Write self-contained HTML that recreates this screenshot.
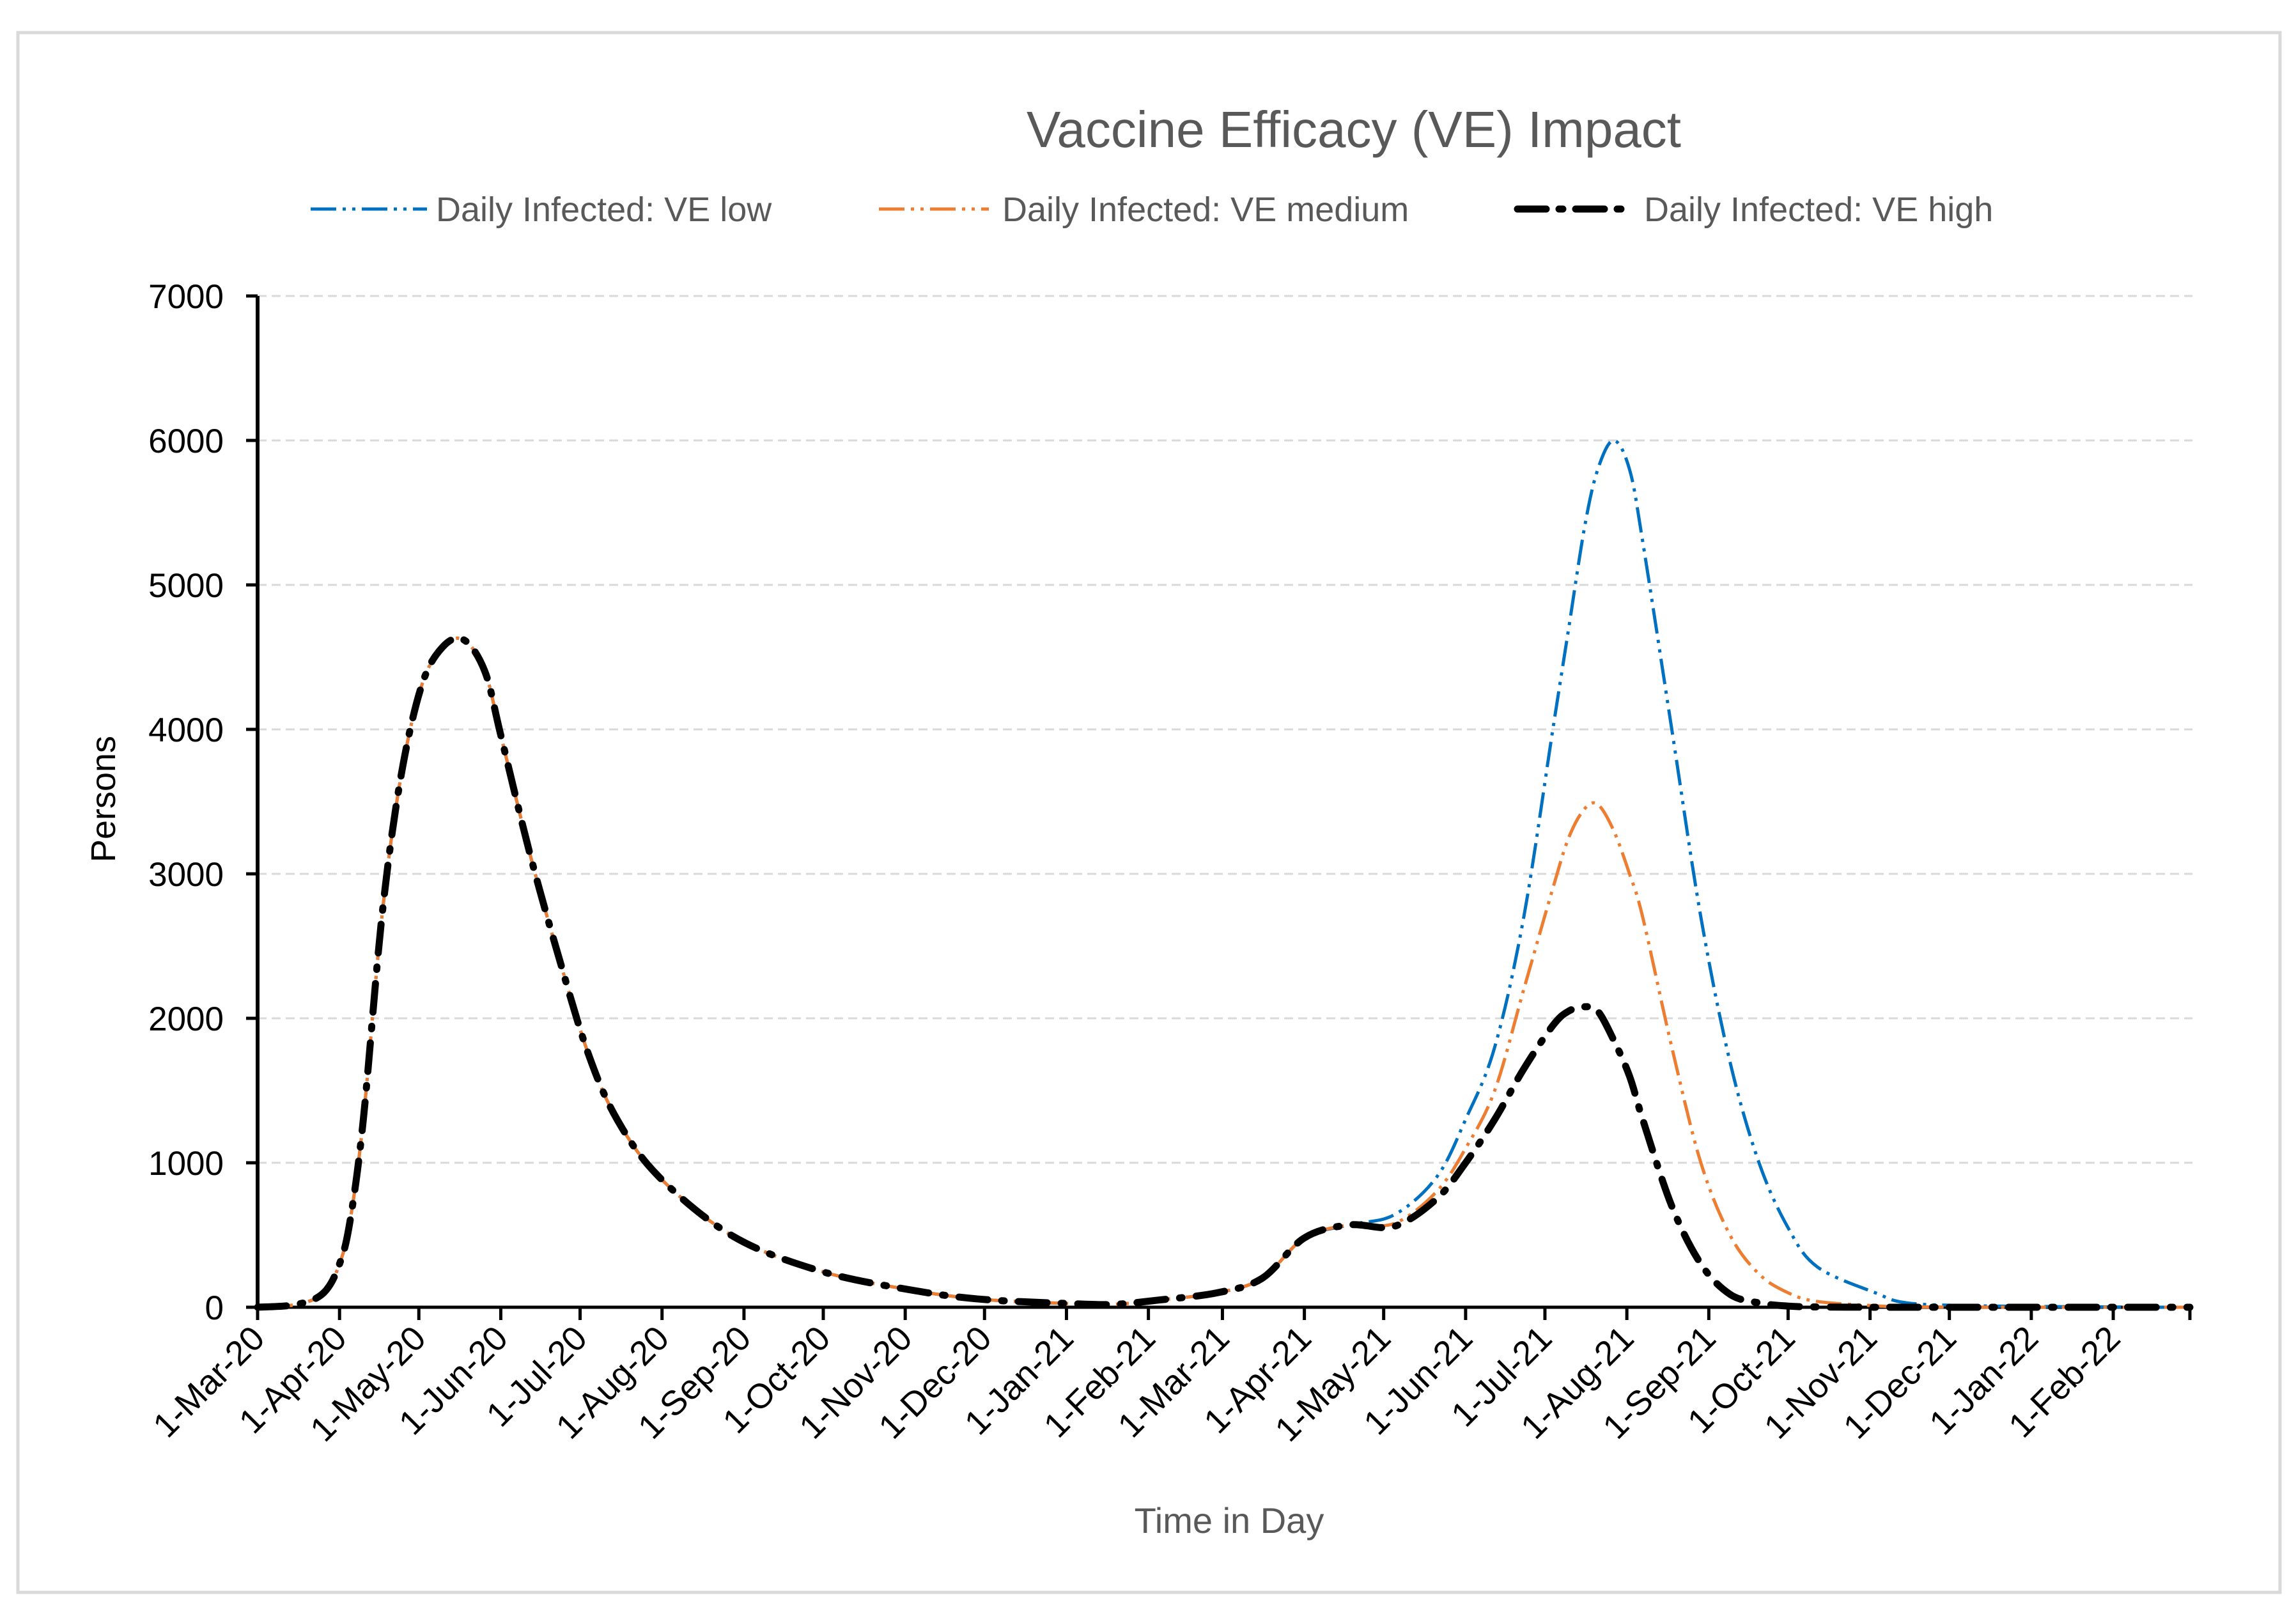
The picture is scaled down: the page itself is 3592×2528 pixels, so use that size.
<!DOCTYPE html>
<html><head><meta charset="utf-8"><style>
html,body{margin:0;padding:0;background:#fff}
svg{display:block;font-family:"Liberation Sans",sans-serif}
</style></head><body>
<svg id="chart" width="3592" height="2528" viewBox="0 0 3592 2528">
<rect x="28" y="51" width="3539" height="2440" fill="#fff" stroke="#d9d9d9" stroke-width="5"/>
<text x="2118" y="230" font-size="80" fill="#595959" text-anchor="middle">Vaccine Efficacy (VE) Impact</text>
<g>
<g>
<line x1="486" y1="327" x2="668" y2="327" stroke="#0070C0" stroke-width="5" stroke-dasharray="40 10 5 10 5 10"/>
<text x="682" y="346" font-size="54" fill="#595959">Daily Infected: VE low</text></g>
<g>
<line x1="1375" y1="327" x2="1547" y2="327" stroke="#ED7D31" stroke-width="5" stroke-dasharray="40 10 5 10 5 10"/>
<text x="1568" y="346" font-size="54" fill="#595959">Daily Infected: VE medium</text></g>
<g>
<line x1="2374" y1="327" x2="2556" y2="327" stroke="#000" stroke-width="11" stroke-dasharray="45 20 6 20" stroke-linecap="round"/>
<text x="2572" y="346" font-size="54" fill="#595959">Daily Infected: VE high</text></g>
</g>
<g id="grid"></g><g id="axes"></g><g id="series"></g>
<text x="0" y="0" transform="translate(180,1250) rotate(-90)" font-size="54" fill="#000" text-anchor="middle">Persons</text>
<text x="1923" y="2398" font-size="56" fill="#595959" text-anchor="middle">Time in Day</text>
</svg>
<script>
const yTicks=[0,1000,2000,3000,4000,5000,6000,7000];
const monthLabels=["1-Mar-20","1-Apr-20","1-May-20","1-Jun-20","1-Jul-20","1-Aug-20","1-Sep-20","1-Oct-20","1-Nov-20","1-Dec-20","1-Jan-21","1-Feb-21","1-Mar-21","1-Apr-21","1-May-21","1-Jun-21","1-Jul-21","1-Aug-21","1-Sep-21","1-Oct-21","1-Nov-21","1-Dec-21","1-Jan-22","1-Feb-22"];
const monthDays=[0,31,61,92,122,153,184,214,245,275,306,337,365,396,426,457,487,518,549,579,610,640,671,702];
const days=[0,15,25,31,35,40,47,54,62,70,78,86,92,103,114,125,136,152,180,213,247,274,308,324,341,363,380,396,413,430,446,457,468,479,490,496,502,507,513,519,524,535,546,557,568,579,590,612,624,650,700,731];
const shared=[0,20,100,300,600,1300,2700,3650,4300,4570,4620,4400,3960,3140,2420,1760,1300,900,490,250,120,55,25,20,50,100,200,480,570];
const veLow=shared.concat([640,900,1300,1800,2700,4000,4700,5400,5800,6000,5800,5300,4000,2700,1700,1000,550,280,100,30,10,2,0]);
const veMed=shared.concat([580,800,1100,1500,2200,2900,3250,3450,3480,3300,3000,2700,1800,1000,500,230,100,40,10,3,1,0,0]);
const veHigh=shared.concat([560,750,1000,1300,1650,1950,2050,2080,2050,1850,1600,1300,700,300,90,30,8,2,0,0,0,0,0]);
const X0=403,X1=3426,Y0=2045,Y1=463,DMAX=731,VMAX=7000;
const xs=d=>X0+(X1-X0)*d/DMAX, ys=v=>Y0-(Y0-Y1)*v/VMAX;
const NS="http://www.w3.org/2000/svg";
const mk=(t,a,p)=>{const e=document.createElementNS(NS,t);for(const k in a)e.setAttribute(k,a[k]);p.appendChild(e);return e;};
const grid=document.getElementById('grid'),axes=document.getElementById('axes'),series=document.getElementById('series');
yTicks.forEach(v=>{
 if(v>0){const g=mk('line',{x1:X0,x2:3430,y1:ys(v),y2:ys(v),stroke:'#d9d9d9','stroke-width':3,'stroke-dasharray':'14 8'},grid);
 
 }
 const t=mk('text',{x:350,y:ys(v)+19,'font-size':53,'text-anchor':'end',fill:'#000'},axes);t.textContent=v;
 
 
 const tk=mk('line',{x1:X0-18,x2:X0,y1:ys(v),y2:ys(v),stroke:'#000','stroke-width':5},axes);
 
 
});
const ya=mk('line',{x1:X0,x2:X0,y1:Y1,y2:Y0+2,stroke:'#000','stroke-width':6},axes);


const xa=mk('line',{x1:X0,x2:X1,y1:Y0,y2:Y0,stroke:'#000','stroke-width':5},axes);


monthDays.concat([DMAX]).forEach(d=>{const tk=mk('line',{x1:xs(d),x2:xs(d),y1:Y0,y2:Y0+20,stroke:'#000','stroke-width':5},axes);
 
 });
monthLabels.forEach((l,i)=>{const x=xs(monthDays[i])+14,y=Y0+52;
 const t=mk('text',{x:x,y:y,'font-size':54,'text-anchor':'end',fill:'#000',transform:`rotate(-45 ${x} ${y})`},axes);t.textContent=l;
 
 });
function pathD(vals){const p=days.map((d,i)=>[xs(d),ys(vals[i])]);let s=`M${p[0][0]},${p[0][1]}`;
 for(let i=0;i<p.length-1;i++){const a=p[Math.max(0,i-1)],b=p[i],c=p[i+1],e=p[Math.min(p.length-1,i+2)];
 const c1=[b[0]+(c[0]-a[0])/6,b[1]+(c[1]-a[1])/6],c2=[c[0]-(e[0]-b[0])/6,c[1]-(e[1]-b[1])/6];
 s+=` C${c1[0]},${Math.min(Y0,c1[1])} ${c2[0]},${Math.min(Y0,c2[1])} ${c[0]},${c[1]}`;}return s;}
const l1=mk('path',{d:pathD(veLow),fill:'none',stroke:'#0070C0','stroke-width':5,'stroke-dasharray':'40 10 5 10 5 10'},series);


const l2=mk('path',{d:pathD(veMed),fill:'none',stroke:'#ED7D31','stroke-width':5,'stroke-dasharray':'40 10 5 10 5 10'},series);


const l3=mk('path',{d:pathD(veHigh),fill:'none',stroke:'#000','stroke-width':11,'stroke-linecap':'round','stroke-dasharray':'45 22 4 22'},series);


</script>
</body></html>
